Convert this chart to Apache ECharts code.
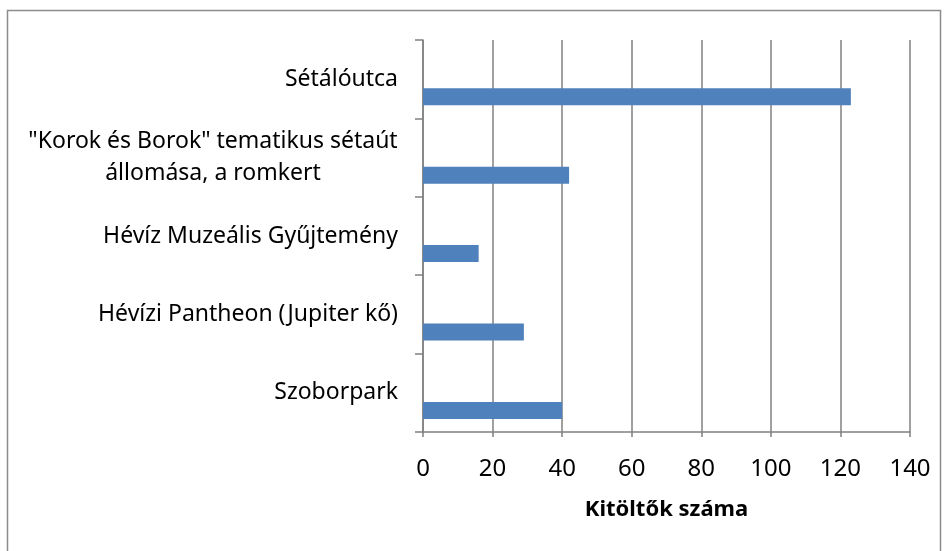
<!DOCTYPE html>
<html>
<head>
  <meta charset="utf-8">
  <title>ECharts</title>
  <script src="https://cdn.jsdelivr.net/npm/echarts@6/dist/echarts.min.js"></script>
</head>
<body style="margin:0;background:#fff">
<div id="main" style="width: 949px;height:551px;"></div>
<script type="text/javascript">
  // categories from bottom to top, as on the y axis
  var helyszinek = [
    'Szoborpark',
    'Hévízi Pantheon (Jupiter kő)',
    'Hévíz Muzeális Gyűjtemény',
    '"Korok és Borok" tematikus sétaút\nállomása, a romkert',
    'Sétálóutca'
  ];
  var kitoltok = [40, 29, 16, 42, 123];
  var xTicks = [0, 20, 40, 60, 80, 100, 120, 140];

  var fontName = 'Noto Sans';
  var labelSize = 23;

  // measure the widest line so multi-line labels can be centred
  var ctx = document.createElement('canvas').getContext('2d');
  ctx.font = labelSize + 'px "' + fontName + '"';
  function lineWidth(s) { return Math.ceil(ctx.measureText(s).width); }

  var myChart = echarts.init(document.getElementById('main'));

  var option = {
    backgroundColor: '#fff',
    animation: false,
    graphic: [{
      type: 'rect',
      shape: { x: 7.5, y: 10.5, width: 933, height: 560 },
      style: { fill: 'none', stroke: '#8c8c8c', lineWidth: 1.5 },
      silent: true
    }],
    grid: { left: 423, right: 39, top: 40, bottom: 119 },
    xAxis: {
      type: 'value',
      min: xTicks[0],
      max: xTicks[xTicks.length - 1],
      interval: 20,
      name: 'Kitöltők száma',
      nameLocation: 'middle',
      nameGap: 67,
      nameTextStyle: { fontFamily: fontName, fontSize: 22, fontWeight: 'bold', color: '#000' },
      axisLine: { show: true, lineStyle: { color: '#808080', width: 1.5 } },
      axisTick: { show: true, length: 5, lineStyle: { color: '#808080', width: 1.5 } },
      axisLabel: { fontFamily: fontName, fontSize: 24, color: '#000', margin: 25 },
      splitLine: { show: true, lineStyle: { color: '#808080', width: 1.5 } }
    },
    yAxis: {
      type: 'category',
      data: helyszinek,
      axisLine: { show: true, lineStyle: { color: '#808080', width: 1.5 } },
      axisTick: { show: true, length: 8, lineStyle: { color: '#808080', width: 1.5 } },
      axisLabel: {
        fontFamily: fontName,
        fontSize: labelSize,
        color: '#000',
        margin: 25,
        lineHeight: 32,
        formatter: function (v) {
          if (v.indexOf('\n') < 0) return v;
          var lines = v.split('\n');
          return lines.map(function (l) { return '{c|' + l + '}'; }).join('\n');
        },
        rich: {
          c: {
            fontFamily: fontName, fontSize: labelSize, color: '#000', lineHeight: 32,
            align: 'center',
            width: lineWidth('"Korok és Borok" tematikus sétaút')
          }
        }
      }
    },
    series: [
      {
        name: 'ures',
        type: 'bar',
        data: [],
        barWidth: 17,
        barGap: '107%'
      },
      {
        name: 'Kitöltők száma',
        type: 'bar',
        data: kitoltok,
        barWidth: 17,
        barGap: '107%',
        itemStyle: { color: '#4F81BD' }
      }
    ]
  };

  myChart.setOption(option);
</script>
</body>
</html>
